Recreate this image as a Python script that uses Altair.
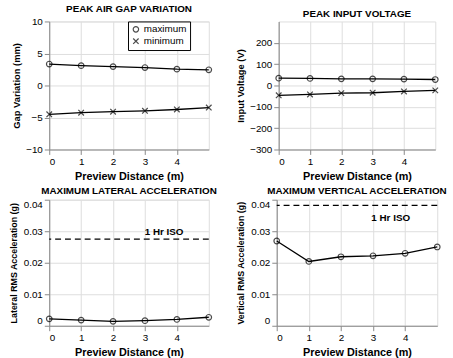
import altair as alt
import pandas as pd

distance = [0, 1, 2, 3, 4, 5]
gap_max = [3.35, 3.1, 2.95, 2.8, 2.55, 2.45]
gap_min = [-4.5, -4.25, -4.1, -3.95, -3.75, -3.45]
volt_max = [34, 33, 31, 31, 30, 28]
volt_min = [-46, -42, -36, -34, -28, -23]
lat_acc = [0.0022, 0.0018, 0.0014, 0.0016, 0.0020, 0.0027]
vert_acc = [0.0269, 0.0204, 0.0219, 0.0222, 0.0230, 0.0250]
iso_lat = 0.0275
iso_vert = 0.0382
series_names = ["maximum", "minimum"]
x_ticks = [0, 1, 2, 3, 4]
acc_ticks = [0, 0.01, 0.02, 0.03, 0.04]

FONT = "Liberation Sans"
NARROW = "Liberation Sans Narrow, Liberation Sans"
XPATH = "M-1,-1L1,1M-1,1L1,-1"


def two_series(a, b):
    rows = []
    for d, v in zip(distance, a):
        rows.append({"d": d, "v": v, "s": series_names[0]})
    for d, v in zip(distance, b):
        rows.append({"d": d, "v": v, "s": series_names[1]})
    return pd.DataFrame(rows)


def xenc():
    return alt.X("d:Q", scale=alt.Scale(domain=[0, 5], nice=False),
                 axis=alt.Axis(values=x_ticks, title="Preview Distance (m)", format="d",
                               titlePadding=4))


def title_of(t):
    return alt.TitleParams(t, font=FONT, fontSize=10, fontWeight="bold", offset=3)


def top_panel(a, b, ytitle, ydom, yvals, title, w, h, lx):
    df = two_series(a, b)
    y = alt.Y("v:Q", scale=alt.Scale(domain=ydom, nice=False),
              axis=alt.Axis(values=yvals, title=ytitle, titleFontSize=9.5))
    base = alt.Chart(df)
    line = base.mark_line(color="black", strokeWidth=1.3).encode(x=xenc(), y=y, detail="s:N")
    pts = base.mark_point(color="black", filled=False, size=32, strokeWidth=1.2).encode(
        x=xenc(), y=y,
        shape=alt.Shape("s:N", scale=alt.Scale(domain=series_names, range=["circle", XPATH]),
                        legend=alt.Legend(title=None, orient="none", legendX=lx, legendY=0,
                                          strokeColor="black", fillColor="white",
                                          padding=3, labelFont=NARROW, labelFontSize=10,
                                          symbolStrokeColor="black", symbolSize=30,
                                          symbolStrokeWidth=1.2,
                                          rowPadding=0, labelColor="black", labelOffset=3)))
    return alt.layer(line, pts).properties(width=w, height=h, title=title_of(title))


def bot_panel(vals, iso, ytitle, txt_x, txt_y, title, w, h):
    df = pd.DataFrame({"d": distance, "v": vals})

    def yenc():
        return alt.Y("v:Q", scale=alt.Scale(domain=[0, 0.04], nice=False),
                     axis=alt.Axis(values=acc_ticks, title=ytitle, titleFont=NARROW,
                                   titleFontSize=9, titlePadding=5, labelFlush=True,
                                   labelExpr="datum.value == 0 ? '0' : format(datum.value, '.2f')"))

    base = alt.Chart(df)
    line = base.mark_line(color="black", strokeWidth=1.3).encode(x=xenc(), y=yenc())
    pts = base.mark_point(color="black", filled=False, size=32, strokeWidth=1.2).encode(
        x=xenc(), y=yenc())
    rule = alt.Chart(pd.DataFrame({"v": [iso]})).mark_rule(
        color="black", strokeDash=[6, 4], strokeWidth=1.3).encode(y=yenc())
    text = alt.Chart(pd.DataFrame({"d": [txt_x], "v": [txt_y], "t": ["1 Hr ISO"]})).mark_text(
        font=FONT, fontSize=10, fontWeight="bold", color="black").encode(
        x=xenc(), y=yenc(), text="t:N")
    return alt.layer(line, pts, rule, text).properties(width=w, height=h, title=title_of(title))


p1 = top_panel(gap_max, gap_min, "Gap Variation (mm)", [-10, 10], [-10, -5, 0, 5, 10],
               "PEAK AIR GAP VARIATION", 162, 130, 80)
p2 = top_panel(volt_max, volt_min, "Input Voltage (V)", [-300, 300],
               [-300, -200, -100, 0, 100, 200], "PEAK INPUT VOLTAGE", 159, 130, 79)
p3 = bot_panel(lat_acc, iso_lat, "Lateral RMS Acceleration (g)", 3.6, 0.0298,
               "MAXIMUM LATERAL ACCELERATION", 162, 128)
p4 = bot_panel(vert_acc, iso_vert, "Vertical RMS Acceleration (g)", 3.55, 0.0342,
               "MAXIMUM VERTICAL ACCELERATION", 163, 128)

chart = alt.vconcat(
    alt.hconcat(p1, p2, spacing=20),
    alt.hconcat(p3, p4, spacing=18),
    spacing=4,
).resolve_scale(shape="independent").properties(
    padding={"left": 9, "top": 0, "right": 5, "bottom": 2}
).configure_view(stroke="black", strokeWidth=1.2).configure_axis(
    labelFont=FONT, labelFontSize=9.5, labelFontWeight="bold", labelColor="black",
    titleFont=FONT, titleFontSize=9, titleFontWeight="bold", titleColor="black",
    grid=True, gridDash=[1, 3], gridColor="#555555", gridOpacity=0.7,
    ticks=False, domain=False, labelPadding=3, titlePadding=2, labelOverlap=False,
).configure(background="white")

chart.save("out.html", embed_options={"renderer": "svg", "actions": False})
